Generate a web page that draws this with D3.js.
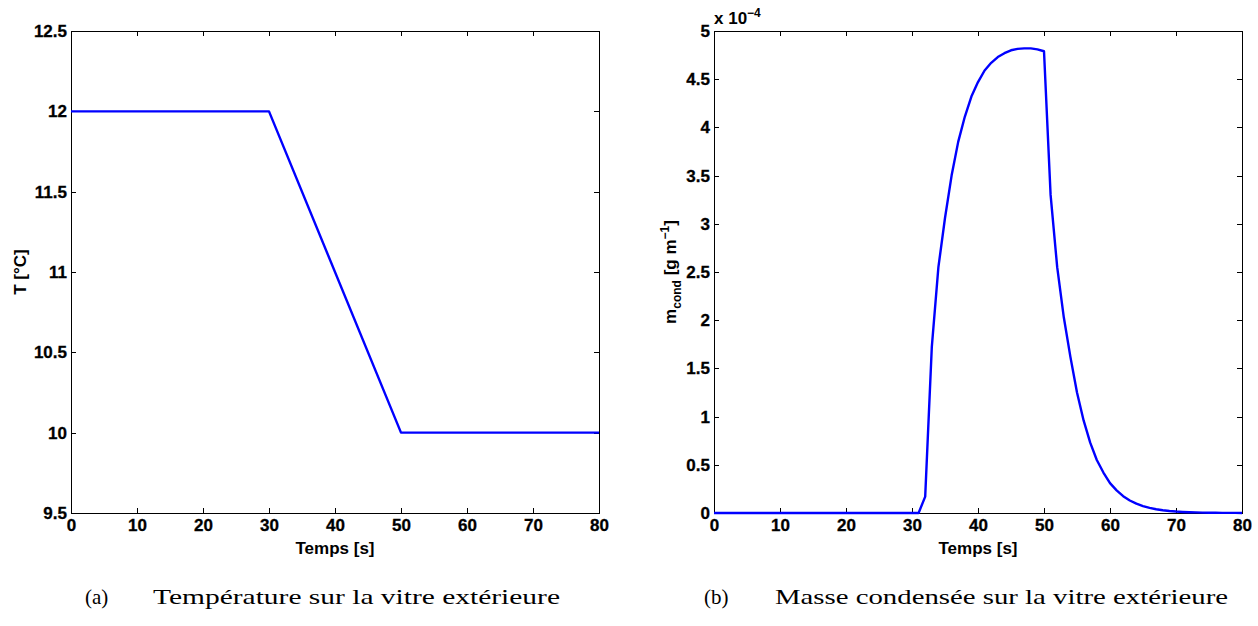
<!DOCTYPE html>
<html>
<head>
<meta charset="utf-8">
<script src="https://cdn.jsdelivr.net/npm/d3@7"></script>
<style>
  html, body { margin: 0; padding: 0; background: #fff; }
  svg { display: block; }
  .ax path, .ax line { stroke: #000; stroke-width: 1; shape-rendering: crispEdges; }
  .lab { font-family: "Liberation Sans", Arial, Helvetica, sans-serif; font-weight: bold; font-size: 17px; fill: #000; }
  .cap { font-family: "Liberation Serif", "Times New Roman", serif; font-size: 21px; fill: #000; }
</style>
</head>
<body>
<script>
// ---- Data ----
// (a) Temperature on outer glass
const timeA = [0, 30, 50, 80];
const tempA = [12, 12, 10, 10];

// (b) Condensed mass (x 10^-4 g m^-1), one sample per second
const timeB = [0,1,2,3,4,5,6,7,8,9,10,11,12,13,14,15,16,17,18,19,20,
  21,22,23,24,25,26,27,28,29,30,31,32,33,34,35,36,37,38,39,40,
  41,42,43,44,45,46,47,48,49,50,51,52,53,54,55,56,57,58,59,60,
  61,62,63,64,65,66,67,68,69,70,71,72,73,74,75,76,77,78,79,80];
const massB = [0,0,0,0,0,0,0,0,0,0,0,0,0,0,0,0,0,0,0,0,0,
  0,0,0,0,0,0,0,0,0,0,0,0.17,1.72,2.55,3.06,3.50,3.85,4.11,4.32,4.47,
  4.59,4.67,4.73,4.77,4.80,4.815,4.82,4.82,4.81,4.79,3.30,2.55,2.03,1.62,1.25,0.96,0.73,0.55,0.42,0.31,
  0.235,0.175,0.13,0.097,0.072,0.053,0.039,0.029,0.021,0.015,0.011,0.008,0.006,0.004,0.003,0.002,0.0015,0.001,0.0008,0.0006];

// Ticks
const xTicks = [0, 10, 20, 30, 40, 50, 60, 70, 80];
const yTicksA = [9.5, 10, 10.5, 11, 11.5, 12, 12.5];
const yTicksB = [0, 0.5, 1, 1.5, 2, 2.5, 3, 3.5, 4, 4.5, 5];

// Texts
const xLabel = "Temps [s]";
const captionA = ["(a)", "Température sur la vitre extérieure"];
const captionB = ["(b)", "Masse condensée sur la vitre extérieure"];

// ---- Drawing ----
const W = 1258, H = 626;
const svg = d3.select("body").append("svg").attr("width", W).attr("height", H);

function styleAxis(sel) {
  sel.attr("font-family", null).attr("font-size", null);
  sel.selectAll("text")
    .style("font-family", '"Liberation Sans", Arial, Helvetica, sans-serif')
    .style("font-weight", "bold")
    .style("font-size", "17px")
    .style("fill", "#000")
    .style("stroke", "#000")
    .style("stroke-width", "0.3px");
}

function panel(opts) {
  const x = d3.scaleLinear().domain([0, 80]).range([opts.x0, opts.x1]);
  const y = d3.scaleLinear().domain(opts.yDomain).range([opts.y1, opts.y0]);
  const g = svg.append("g");
  const fmt = d => String(d);

  g.append("g").attr("class", "ax").attr("transform", `translate(0,${opts.y1})`)
    .call(d3.axisBottom(x).tickValues(xTicks).tickFormat(fmt).tickSizeInner(-5).tickSizeOuter(0).tickPadding(6))
    .call(styleAxis);
  g.append("g").attr("class", "ax").attr("transform", `translate(0,${opts.y0})`)
    .call(d3.axisTop(x).tickValues(xTicks).tickFormat("").tickSizeInner(-5).tickSizeOuter(0));
  g.append("g").attr("class", "ax").attr("transform", `translate(${opts.x0},0)`)
    .call(d3.axisLeft(y).tickValues(opts.yTicks).tickFormat(fmt).tickSizeInner(-5).tickSizeOuter(0).tickPadding(4))
    .call(styleAxis);
  g.append("g").attr("class", "ax").attr("transform", `translate(${opts.x1},0)`)
    .call(d3.axisRight(y).tickValues(opts.yTicks).tickFormat("").tickSizeInner(-5).tickSizeOuter(0));

  const line = d3.line().x(d => x(d[0])).y(d => y(d[1]));
  g.append("path")
    .datum(opts.tx.map((t, i) => [t, opts.vy[i]]))
    .attr("d", line)
    .attr("fill", "none")
    .attr("stroke", "#0000ff")
    .attr("stroke-width", 2.4)
    .attr("stroke-linejoin", "round");

  g.append("text").attr("class", "lab")
    .attr("x", (opts.x0 + opts.x1) / 2).attr("y", opts.y1 + 41)
    .attr("text-anchor", "middle").text(xLabel);

  return { x, y, g };
}

const pA = panel({ x0: 71, x1: 599, y0: 31, y1: 513, yDomain: [9.5, 12.5], yTicks: yTicksA, tx: timeA, vy: tempA });
const pB = panel({ x0: 714, x1: 1242, y0: 31, y1: 513, yDomain: [0, 5], yTicks: yTicksB, tx: timeB, vy: massB });

// Y labels
pA.g.append("text").attr("class", "lab")
  .attr("transform", `translate(26,272) rotate(-90)`)
  .attr("text-anchor", "middle").text("T [°C]");

const yl = pB.g.append("text").attr("class", "lab")
  .attr("transform", `translate(676,272) rotate(-90)`)
  .attr("text-anchor", "middle");
yl.append("tspan").text("m");
yl.append("tspan").attr("dy", 5).style("font-size", "12px").text("cond");
yl.append("tspan").attr("dy", -5).text(" [g m");
yl.append("tspan").attr("dy", -7).style("font-size", "12px").text("−1");
yl.append("tspan").attr("dy", 7).text("]");

// Exponent label
const ex = pB.g.append("text").attr("class", "lab").attr("x", 714).attr("y", 24);
ex.append("tspan").text("x 10");
ex.append("tspan").attr("dy", -7).style("font-size", "12px").text("−4");

// Captions
function caption(parts, xa, xt, xe, yb) {
  svg.append("text").attr("class", "cap").attr("x", xa).attr("y", yb).text(parts[0]);
  svg.append("text").attr("class", "cap").attr("x", xt).attr("y", yb)
    .attr("textLength", xe - xt).attr("lengthAdjust", "spacingAndGlyphs").text(parts[1]);
}
caption(captionA, 85, 153, 560, 604);
caption(captionB, 704, 775, 1228, 604);
</script>
</body>
</html>
